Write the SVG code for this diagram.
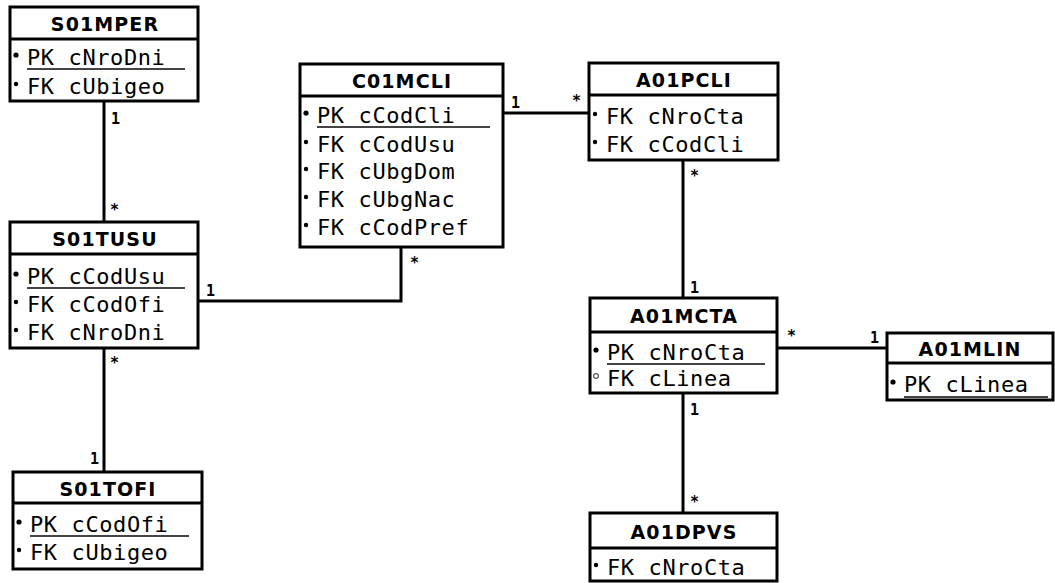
<svg xmlns="http://www.w3.org/2000/svg" width="1055" height="583" viewBox="0 0 1055 583">
<style>
.box{fill:#fff;stroke:#000;stroke-width:3}
.sep{stroke:#000;stroke-width:3}
.title{font-family:"DejaVu Sans",sans-serif;font-weight:bold;font-size:19px;letter-spacing:1.1px;text-anchor:middle;fill:#000}
.row{font-family:"DejaVu Sans Mono",monospace;font-size:22px;letter-spacing:0.6px;fill:#000}
.ul{stroke:#444;stroke-width:2}
.dot{fill:#000}
.hdot{fill:#fff;stroke:#555;stroke-width:1.2}
.conn{fill:none;stroke:#000;stroke-width:3}
.lbl{font-family:"DejaVu Sans Mono",monospace;font-size:15px;font-weight:bold;fill:#000}
</style>
<rect width="1055" height="583" fill="#fff"/>
<g id="connectors">
<path class="conn" d="M104 101V222"/>
<path class="conn" d="M104 348V472"/>
<path class="conn" d="M198 301H401V247"/>
<path class="conn" d="M503 113H589"/>
<path class="conn" d="M683 160V298"/>
<path class="conn" d="M777 348H887"/>
<path class="conn" d="M683 393V513"/>
<text class="lbl" x="111" y="124">1</text>
<text class="lbl" x="110" y="215">*</text>
<text class="lbl" x="110" y="368">*</text>
<text class="lbl" x="90" y="464">1</text>
<text class="lbl" x="206" y="296">1</text>
<text class="lbl" x="410" y="268">*</text>
<text class="lbl" x="511" y="108">1</text>
<text class="lbl" x="572" y="106">*</text>
<text class="lbl" x="690" y="181">*</text>
<text class="lbl" x="690" y="293">1</text>
<text class="lbl" x="787" y="341">*</text>
<text class="lbl" x="870" y="343">1</text>
<text class="lbl" x="690" y="415">1</text>
<text class="lbl" x="690" y="507">*</text>
</g>
<g id="S01MPER">
<rect class="box" x="10" y="7" width="188" height="94"/>
<line class="sep" x1="10" y1="39" x2="198" y2="39"/>
<text class="title" x="105" y="31">S01MPER</text>
<circle class="dot" cx="16" cy="55" r="2.6"/>
<text class="row" x="27" y="65">PK cNroDni</text>
<line class="ul" x1="27" y1="69" x2="185" y2="69"/>
<circle class="dot" cx="16" cy="84" r="2.2"/>
<text class="row" x="27" y="94">FK cUbigeo</text>
</g>
<g id="S01TUSU">
<rect class="box" x="10" y="222" width="188" height="126"/>
<line class="sep" x1="10" y1="254" x2="198" y2="254"/>
<text class="title" x="105" y="246">S01TUSU</text>
<circle class="dot" cx="16" cy="274" r="2.6"/>
<text class="row" x="27" y="284">PK cCodUsu</text>
<line class="ul" x1="27" y1="288" x2="185" y2="288"/>
<circle class="dot" cx="16" cy="302" r="2.2"/>
<text class="row" x="27" y="312">FK cCodOfi</text>
<circle class="dot" cx="16" cy="330" r="2.2"/>
<text class="row" x="27" y="340">FK cNroDni</text>
</g>
<g id="S01TOFI">
<rect class="box" x="13" y="472" width="189" height="97"/>
<line class="sep" x1="13" y1="503" x2="202" y2="503"/>
<text class="title" x="108" y="496">S01TOFI</text>
<circle class="dot" cx="19" cy="522" r="2.6"/>
<text class="row" x="30" y="532">PK cCodOfi</text>
<line class="ul" x1="30" y1="536" x2="189" y2="536"/>
<circle class="dot" cx="19" cy="550" r="2.2"/>
<text class="row" x="30" y="560">FK cUbigeo</text>
</g>
<g id="C01MCLI">
<rect class="box" x="300" y="64" width="203" height="183"/>
<line class="sep" x1="300" y1="96" x2="503" y2="96"/>
<text class="title" x="402" y="88">C01MCLI</text>
<circle class="dot" cx="306" cy="113" r="2.6"/>
<text class="row" x="317" y="123">PK cCodCli</text>
<line class="ul" x1="317" y1="127" x2="490" y2="127"/>
<circle class="dot" cx="306" cy="142" r="2.2"/>
<text class="row" x="317" y="152">FK cCodUsu</text>
<circle class="dot" cx="306" cy="169" r="2.2"/>
<text class="row" x="317" y="179">FK cUbgDom</text>
<circle class="dot" cx="306" cy="197" r="2.2"/>
<text class="row" x="317" y="207">FK cUbgNac</text>
<circle class="dot" cx="306" cy="225" r="2.2"/>
<text class="row" x="317" y="235">FK cCodPref</text>
</g>
<g id="A01PCLI">
<rect class="box" x="589" y="63" width="189" height="97"/>
<line class="sep" x1="589" y1="95" x2="778" y2="95"/>
<text class="title" x="684" y="87">A01PCLI</text>
<circle class="dot" cx="595" cy="114" r="2.2"/>
<text class="row" x="606" y="124">FK cNroCta</text>
<circle class="dot" cx="595" cy="142" r="2.2"/>
<text class="row" x="606" y="152">FK cCodCli</text>
</g>
<g id="A01MCTA">
<rect class="box" x="590" y="298" width="187" height="95"/>
<line class="sep" x1="590" y1="332" x2="777" y2="332"/>
<text class="title" x="684" y="323">A01MCTA</text>
<circle class="dot" cx="596" cy="350" r="2.6"/>
<text class="row" x="607" y="360">PK cNroCta</text>
<line class="ul" x1="607" y1="364" x2="765" y2="364"/>
<circle class="hdot" cx="596" cy="376" r="2.4"/>
<text class="row" x="607" y="386">FK cLinea</text>
</g>
<g id="A01MLIN">
<rect class="box" x="887" y="333" width="166" height="67"/>
<line class="sep" x1="887" y1="363" x2="1053" y2="363"/>
<text class="title" x="970" y="356">A01MLIN</text>
<circle class="dot" cx="893" cy="382" r="2.6"/>
<text class="row" x="904" y="392">PK cLinea</text>
<line class="ul" x1="904" y1="397" x2="1048" y2="397"/>
</g>
<g id="A01DPVS">
<rect class="box" x="590" y="513" width="187" height="68"/>
<line class="sep" x1="590" y1="548" x2="777" y2="548"/>
<text class="title" x="684" y="539">A01DPVS</text>
<circle class="dot" cx="596" cy="565" r="2.2"/>
<text class="row" x="607" y="575">FK cNroCta</text>
</g>
</svg>
